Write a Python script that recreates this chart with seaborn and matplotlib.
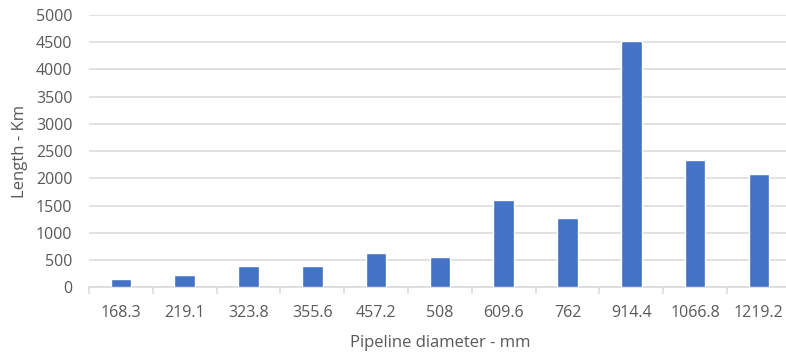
import matplotlib
matplotlib.use("Agg")
import matplotlib.pyplot as plt
import seaborn as sns
import pandas as pd
import numpy as np

categories = ["168.3", "219.1", "323.8", "355.6", "457.2", "508", "609.6", "762", "914.4", "1066.8", "1219.2"]
lengths = [153, 226, 386, 386, 630, 557, 1603, 1267, 4523, 2344, 2081]
y_ticks = [0, 500, 1000, 1500, 2000, 2500, 3000, 3500, 4000, 4500, 5000]

sns.set_theme(style="white")
plt.rcParams['font.family'] = ['Open Sans', 'DejaVu Sans']

df = pd.DataFrame({"diameter": categories, "length": lengths})

fig = plt.figure(figsize=(7.86, 3.56), dpi=100)
ax = fig.add_axes([89/786, (356-287.3)/356, 701.8/786, (287.3-15)/356])

sns.barplot(data=df, x="diameter", y="length", order=categories, color="#4472C4",
            width=0.32, saturation=1, ax=ax, zorder=3)

ax.set_ylim(0, 5000)
ax.set_xlim(-0.5, len(categories) - 0.5)
ax.set_yticks(y_ticks)
ax.yaxis.grid(True, color="#D9D9D9", linewidth=1.1, zorder=0)
ax.set_axisbelow(True)
for s in ["top", "right", "left"]:
    ax.spines[s].set_visible(False)
ax.spines["bottom"].set_color("#D9D9D9")
ax.spines["bottom"].set_linewidth(1.1)

ax.tick_params(axis="y", length=0, pad=12, labelsize=11.5, labelcolor="#595959")
ax.tick_params(axis="x", which="major", length=0, pad=13, labelsize=11.5, labelcolor="#595959")
ax.set_xticks(np.arange(-0.5, len(categories), 1.0), minor=True)
ax.tick_params(axis="x", which="minor", length=5, width=1.1, color="#D9D9D9", direction="out")
ax.xaxis.set_ticks_position("bottom")

ax.set_xlabel("Pipeline diameter - mm", fontsize=12, color="#595959", labelpad=10)
ax.set_ylabel("Length - Km", fontsize=12, color="#595959", labelpad=6)

fig.savefig("out.png", dpi=100)
